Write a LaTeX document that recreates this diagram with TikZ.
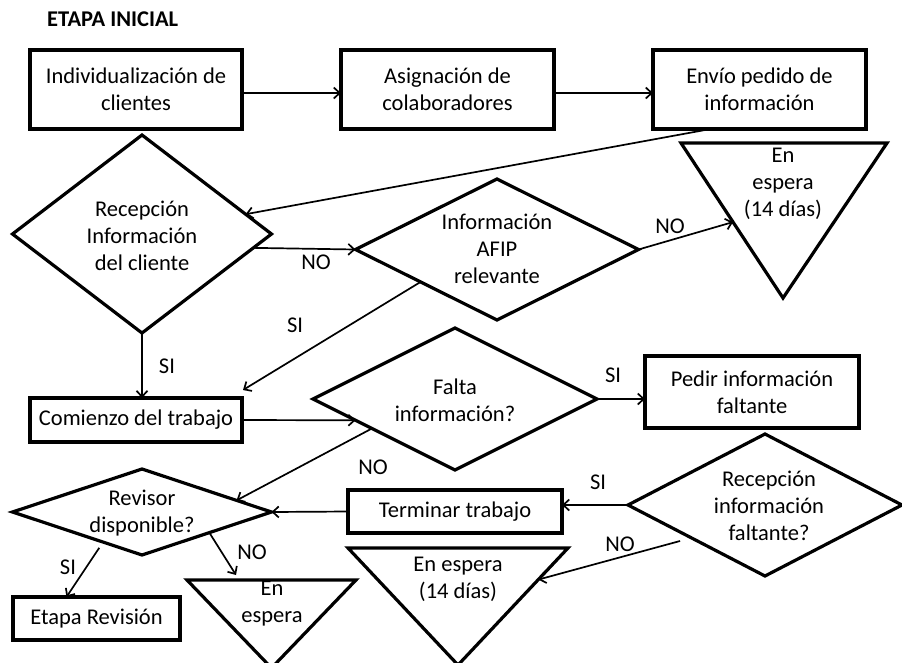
\documentclass[tikz,border=0pt]{standalone}
\usepackage{fontspec}
\setmainfont{Carlito}
\usetikzlibrary{shapes.geometric,arrows.meta,calc}
\begin{document}
\begin{tikzpicture}[x=1pt,y=-1pt,
  font=\fontsize{22.5}{27}\selectfont,
  box/.style={draw, line width=3.2pt, rectangle, inner sep=0pt, outer sep=0pt, align=center},
  dia/.style={draw, line width=3.2pt, diamond, inner sep=0pt, outer sep=0pt},
  txt/.style={align=center, inner sep=0pt},
  lbl/.style={inner sep=0pt},
  arr/.style={line width=1.7pt, -{Straight Barb[length=6pt,width=11pt]}},
  tri/.style={draw, line width=3.2pt, line join=miter}
]
\useasboundingbox (0,0) rectangle (902,662);
\clip (0,0) rectangle (902,662);

\node[lbl, anchor=base west, font=\bfseries\fontsize{22.5}{26}\selectfont] (title) at (47,26.7) {ETAPA INICIAL};

% boxes
\node[box, minimum width=212pt, minimum height=79pt] (b1) at (136,89.5) {Individualización de\\clientes};
\node[box, minimum width=213pt, minimum height=79pt] (b2) at (447.5,89.5) {Asignación de\\colaboradores};
\node[box, minimum width=213pt, minimum height=79pt] (b3) at (759.5,89.5) {Envío pedido de\\información};
\node[box, minimum width=212pt, minimum height=44pt] (b4) at (136,420) {Comienzo del trabajo};
\node[box, minimum width=214pt, minimum height=72pt] (b5) at (752,392) {Pedir información\\faltante};
\node[box, minimum width=214pt, minimum height=43pt] (b6) at (455,511.5) {Terminar trabajo};
\node[box, minimum width=167pt, minimum height=43pt] (b7) at (96.5,618.5) {Etapa Revisión};

% diamonds
\node[dia, minimum width=259pt, minimum height=198pt] (d1) at (142,234) {};
\node[txt] (d1t) at (142,236) {Recepción\\Información\\del cliente};
\node[dia, minimum width=283pt, minimum height=141pt] (d2) at (497,249.5) {};
\node[txt] (d2t) at (497,249) {Información\\AFIP\\relevante};
\node[dia, minimum width=284pt, minimum height=142pt] (d3) at (455,399) {};
\node[txt] (d3t) at (455,400) {Falta\\información?};
\node[dia, minimum width=274pt, minimum height=142pt] (d4) at (765,505) {};
\node[txt] (d4t) at (769,506) {Recepción\\información\\faltante?};
\node[dia, minimum width=259pt, minimum height=86pt] (d5) at (142,512) {};
\node[txt] (d5t) at (142,513) {Revisor\\disponible?};

% triangles
\coordinate (t1a) at (681,143); \coordinate (t1b) at (887,143); \coordinate (t1c) at (783,298);
\draw[tri] (t1a) -- (t1b) -- (t1c) -- cycle;
\node[txt] (t1t) at (783,184) {En\\espera\\(14 días)};
\coordinate (t2a) at (348,548); \coordinate (t2b) at (568,548); \coordinate (t2c) at (458,665);
\draw[tri] (t2a) -- (t2b) -- (t2c) -- cycle;
\node[txt] (t2t) at (458,579) {En espera\\(14 días)};
\coordinate (t3a) at (187,580); \coordinate (t3b) at (356,580); \coordinate (t3c) at (271.5,668);
\draw[tri] (t3a) -- (t3b) -- (t3c) -- cycle;
\node[txt] (t3t) at (272,604) {En\\espera};

% connectors
\draw[arr] ([yshift=-3.5pt]b1.east) -- ([yshift=-3.5pt]b2.west);
\draw[arr] ([yshift=-3.5pt]b2.east) -- ([yshift=-3.5pt]b3.west);
\draw[arr] ($(b3.south west)!0.27!(b3.south east)$) -- ($(d1.north)!0.8!(d1.east)$);
\draw[arr] ($(d1.east)!0.14!(d1.south)$) -- (d2.west);
\draw[arr] (d2.east) -- ($(t1a)!0.51!(t1c)$);
\draw[arr] ($(d2.west)!0.46!(d2.south)$) -- ($(b4.north east)+(1,-8)$);
\draw[arr] (d1.south) -- (d1.south |- b4.north);
\draw[arr] (b4.east) -- ($(d3.west)!0.3!(d3.south)$);
\draw[arr] (d3.east) -- (d3.east -| b5.west);
\draw[arr] ($(d3.west)!0.415!(d3.south)$) -- ($(d5.north)!0.73!(d5.east)$);
\draw[arr] (d4.west) -- (d4.west -| b6.east);
\draw[arr] (b6.west) -- (d5.east);
\draw[arr] ($(d4.west)!0.38!(d4.south)+(0,9)$) -- ($(t2b)!0.27!(t2c)$);
\draw[arr] ($(d5.east)!0.48!(d5.south)$) -- ($(t3a)!0.29!(t3b)+(0,-5)$);
\draw[arr] ($(d5.west)!0.67!(d5.south)+(0,7)$) -- ($(b7.north west)!0.32!(b7.north east)$);

% labels
\node[lbl] (l1) at (316,262) {NO};
\node[lbl] (l2) at (670,226) {NO};
\node[lbl] (l3) at (295,325) {SI};
\node[lbl] (l4) at (167,366) {SI};
\node[lbl] (l5) at (613,375) {SI};
\node[lbl] (l6) at (373,467) {NO};
\node[lbl] (l7) at (598,482) {SI};
\node[lbl] (l8) at (620,544) {NO};
\node[lbl] (l9) at (252,552) {NO};
\node[lbl] (l10) at (68,567) {SI};
\end{tikzpicture}
\end{document}
